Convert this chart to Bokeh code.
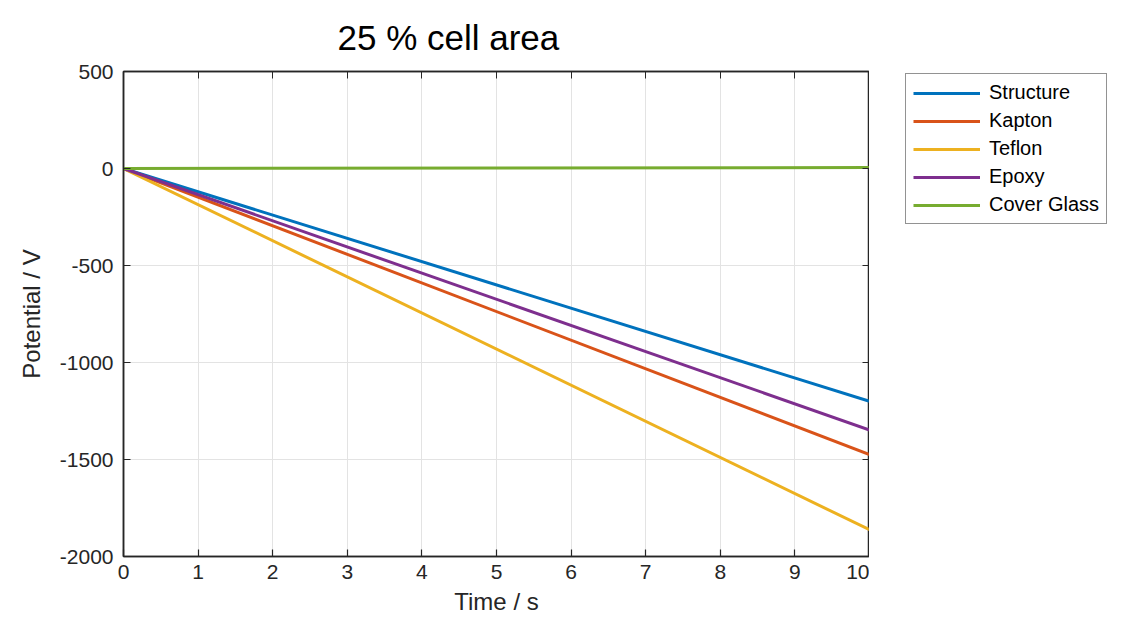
from bokeh.plotting import figure
from bokeh.layouts import row
from bokeh.models import (LinearAxis, Legend, LegendItem, FixedTicker, Title, Range1d,
                          CustomJSTickFormatter)
from bokeh.embed import file_html
from bokeh.resources import INLINE

time = [0, 10]
structure = [0, -1200]
kapton = [0, -1475]
teflon = [0, -1862]
epoxy = [0, -1348]
cover_glass = [0, 5]

series_names = ["Structure", "Kapton", "Teflon", "Epoxy", "Cover Glass"]
series_vals = [structure, kapton, teflon, epoxy, cover_glass]
colors = ["#0072BD", "#D95319", "#EDB120", "#7E2F8E", "#77AC30"]

x_ticks = list(range(0, 11))
y_ticks = [-2000, -1500, -1000, -500, 0, 500]

FONT = "Liberation Sans"
TXT = "#262626"
H = 617

p = figure(width=869, height=H, output_backend="svg", toolbar_location=None,
           x_range=Range1d(0, 10), y_range=Range1d(-2000, 500),
           min_border_left=123, min_border_top=71, min_border_bottom=50, min_border_right=0)
p.title = None

p.outline_line_color = TXT
p.outline_line_width = 1.5
p.background_fill_color = "white"
p.border_fill_color = "white"

fmt = CustomJSTickFormatter(code="return tick.toString();")
blank = CustomJSTickFormatter(code="return '';")
for ax in (p.xaxis[0], p.yaxis[0]):
    ax.major_tick_in = 7
    ax.major_tick_out = 0
    ax.minor_tick_in = 0
    ax.minor_tick_out = 0
    ax.axis_line_color = TXT
    ax.axis_line_width = 1.5
    ax.major_tick_line_color = TXT
    ax.major_tick_line_width = 1.2
    ax.major_label_text_font = FONT
    ax.major_label_text_font_size = "21px"
    ax.major_label_text_color = TXT
    ax.axis_label_text_font = FONT
    ax.axis_label_text_font_size = "24px"
    ax.axis_label_text_font_style = "normal"
    ax.axis_label_text_color = TXT
    ax.formatter = fmt

p.xaxis[0].ticker = FixedTicker(ticks=x_ticks)
p.yaxis[0].ticker = FixedTicker(ticks=y_ticks)
p.xaxis[0].axis_label = "Time / s"
p.yaxis[0].axis_label = "Potential / V"
p.xaxis[0].major_label_standoff = 8
p.yaxis[0].major_label_standoff = 10
p.xaxis[0].axis_label_standoff = 6
p.yaxis[0].axis_label_standoff = 12

top = LinearAxis(ticker=FixedTicker(ticks=x_ticks), formatter=blank,
                 major_label_standoff=0,
                 major_tick_in=7, major_tick_out=0, minor_tick_in=0, minor_tick_out=0,
                 axis_line_color=TXT, axis_line_width=1.5, major_tick_line_color=TXT)
right = LinearAxis(ticker=FixedTicker(ticks=y_ticks), formatter=blank,
                   major_label_standoff=0,
                   major_tick_in=7, major_tick_out=0, minor_tick_in=0, minor_tick_out=0,
                   axis_line_color=TXT, axis_line_width=1.5, major_tick_line_color=TXT)
p.add_layout(top, "above")
p.add_layout(right, "right")

p.add_layout(Title(text="25 % cell area", align="left", offset=214, standoff=30,
                   text_font=FONT, text_font_size="35px", text_font_style="normal",
                   text_color="#000000"), "above")

p.xgrid.ticker = FixedTicker(ticks=x_ticks)
p.ygrid.ticker = FixedTicker(ticks=y_ticks)
for g in (p.xgrid[0], p.ygrid[0]):
    g.grid_line_color = "#e3e3e3"
    g.grid_line_width = 1

for vals, c in zip(series_vals, colors):
    p.line(time, vals, line_color=c, line_width=3)

# legend panel: a second, axis-free figure whose ranges keep its lines out of view
lg = figure(width=240, height=H, output_backend="svg", toolbar_location=None,
            x_range=Range1d(100, 101), y_range=Range1d(100, 101),
            x_axis_type=None, y_axis_type=None,
            min_border_left=0, min_border_right=0, min_border_top=0, min_border_bottom=0)
lg.title = None
lg.outline_line_color = None
lg.grid.visible = False
items = []
for name, vals, c in zip(series_names, series_vals, colors):
    r = lg.line(time, vals, line_color=c, line_width=3)
    items.append(LegendItem(label=name, renderers=[r]))

legend = Legend(items=items, location=(36, 332), glyph_width=67, glyph_height=20,
                label_height=20, spacing=5, padding=7, label_standoff=9,
                label_text_font=FONT, label_text_font_size="20px", label_text_color="#000000",
                border_line_color=TXT, border_line_width=1, background_fill_alpha=1,
                margin=0)
lg.add_layout(legend, "center")

layout = row(p, lg)
open("out.html", "w").write(file_html(layout, INLINE))
